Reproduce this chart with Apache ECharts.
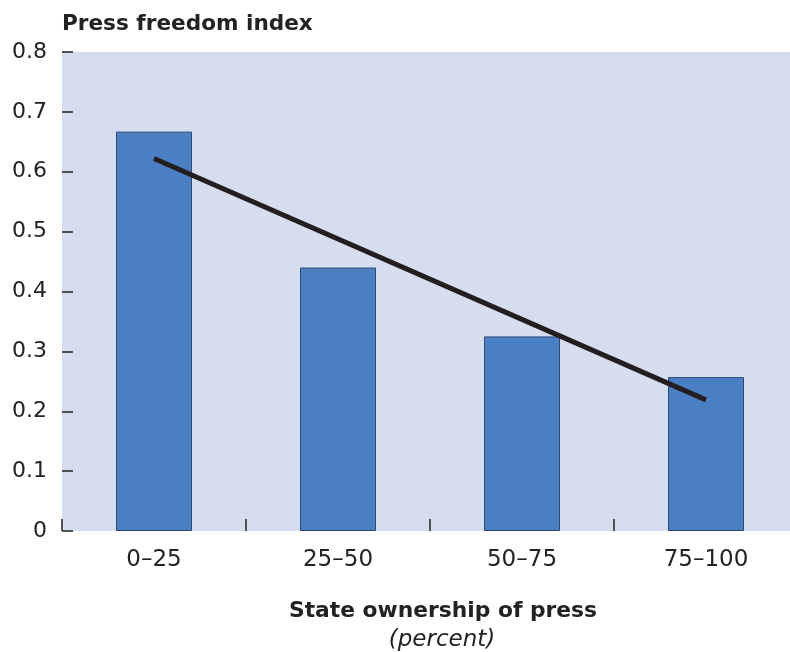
<!DOCTYPE html>
<html>
<head>
<meta charset="utf-8">
<script src="https://cdn.jsdelivr.net/npm/echarts@6/dist/echarts.min.js"></script>
<style>html,body{margin:0;padding:0;background:#fff;overflow:hidden;width:790px;height:652px}#c{width:798px;height:652px}</style>
</head>
<body>
<div id="c"></div>
<script>
const categories = ['0–25', '25–50', '50–75', '75–100'];
const barValues = [0.667, 0.440, 0.325, 0.257];
const trendValues = [0.622, '-', '-', 0.219];
const yTicks = { min: 0, max: 0.8, interval: 0.1 };
const titleText = 'Press freedom index';
const xName = 'State ownership of press';
const xUnit = '(percent)';

const chart = echarts.init(document.getElementById('c'));
const font = '"DejaVu Sans", "Liberation Sans", Arial, sans-serif';
chart.setOption({
  animation: false,
  textStyle: { fontFamily: font },
  grid: { left: 62, top: 52, right: 0, bottom: 121, show: true, backgroundColor: '#d5ddef', borderWidth: 0, containLabel: false },
  graphic: [
    { type: 'text', x: 62, y: 13, style: { text: titleText, font: 'bold 21.6px ' + font, fill: '#222' } },
    { type: 'text', x: 443, y: 600, style: { text: xName, font: 'bold 21.8px ' + font, fill: '#222', textAlign: 'center' } },
    { type: 'text', x: 442, y: 629, style: { text: xUnit, font: 'italic 23px ' + font, fill: '#222', textAlign: 'center' } }
  ],
  xAxis: {
    type: 'category', data: categories, boundaryGap: true,
    axisLine: { show: false },
    axisTick: { show: true, inside: true, length: 12, lineStyle: { color: '#222', width: 1.5 } },
    axisLabel: { fontSize: 23, color: '#222', margin: 18 },
    splitLine: { show: false }
  },
  yAxis: {
    type: 'value', min: yTicks.min, max: yTicks.max, interval: yTicks.interval,
    axisLine: { show: false },
    axisTick: { show: true, inside: true, length: 11, lineStyle: { color: '#222', width: 1.5 } },
    axisLabel: { fontSize: 22, color: '#222', margin: 15, padding: [3, 0, 0, 0], formatter: v => v === 0 ? '0' : v.toFixed(1) },
    splitLine: { show: false }
  },
  series: [
    { type: 'bar', data: barValues, barWidth: 76, itemStyle: { color: '#4a80c3', borderColor: '#2c4a72', borderWidth: 1 } },
    { type: 'line', data: trendValues, connectNulls: true, symbol: 'none', lineStyle: { color: '#231f20', width: 5 } }
  ]
});
</script>
</body>
</html>
